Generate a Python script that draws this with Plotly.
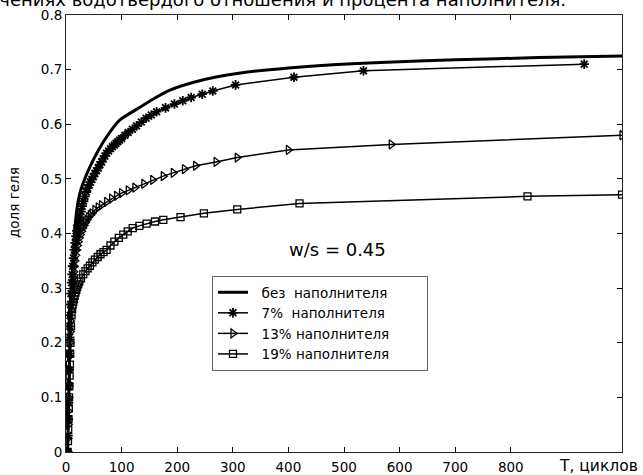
import plotly.graph_objects as go

# ---- data ----
t_none = [3, 4, 5, 6, 7, 8, 10, 12, 14, 17, 19, 24, 30, 43, 58, 73, 97, 133, 160, 188, 230, 272, 314, 400, 480, 566, 700, 850, 1000]
v_none = [0.0, 0.05, 0.1, 0.15, 0.2, 0.25, 0.3, 0.35, 0.38, 0.42, 0.44, 0.47, 0.49, 0.522, 0.552, 0.577, 0.608, 0.631, 0.648, 0.663, 0.677, 0.687, 0.694, 0.703, 0.709, 0.713, 0.718, 0.722, 0.725]

t_7 = [3, 3.5, 4, 4.5, 5, 5.5, 6, 6.5, 7, 7.5, 8, 9, 10, 11, 12, 13.5, 15, 16.5, 18, 19.5, 21, 23, 25, 27, 29, 31.5, 34, 36.5, 39, 41.5, 44, 46.5, 49, 52, 55, 58, 61, 64, 67, 70, 73, 76.5, 80, 83.5, 87, 90, 93, 96.5, 100, 106, 112, 119.5, 127, 135.5, 144, 153.5, 163, 179, 195, 210, 225, 245, 264, 305, 410, 535, 932]
v_7 = [0.0, 0.03, 0.06, 0.09, 0.12, 0.15, 0.18, 0.21, 0.23, 0.25, 0.27, 0.29, 0.31, 0.325, 0.34, 0.355, 0.37, 0.383, 0.395, 0.405, 0.415, 0.423, 0.43, 0.44, 0.45, 0.459, 0.468, 0.476, 0.483, 0.489, 0.494, 0.499, 0.504, 0.51, 0.515, 0.52, 0.526, 0.531, 0.537, 0.542, 0.547, 0.551, 0.555, 0.559, 0.562, 0.565, 0.568, 0.571, 0.574, 0.58, 0.585, 0.591, 0.597, 0.604, 0.611, 0.617, 0.623, 0.63, 0.637, 0.643, 0.649, 0.655, 0.661, 0.672, 0.686, 0.698, 0.710]

t_13 = [3, 3.5, 4, 4.5, 5, 5.5, 6, 6.5, 7, 7.5, 8, 9, 10, 11, 12, 13, 14, 15, 16, 17.5, 19, 20.5, 22, 24, 26, 28, 30, 32.5, 35, 38, 41, 44, 47, 52, 58, 64, 73, 82, 91, 100, 112, 124, 140, 156, 175, 193, 213, 233, 270, 308, 400, 585, 1000]
v_13 = [0.0, 0.025, 0.05, 0.075, 0.1, 0.125, 0.15, 0.175, 0.2, 0.22, 0.24, 0.26, 0.28, 0.295, 0.31, 0.32, 0.33, 0.34, 0.35, 0.36, 0.37, 0.378, 0.385, 0.392, 0.398, 0.404, 0.41, 0.415, 0.42, 0.425, 0.43, 0.434, 0.437, 0.443, 0.448, 0.452, 0.458, 0.464, 0.469, 0.474, 0.479, 0.484, 0.491, 0.498, 0.505, 0.511, 0.518, 0.524, 0.531, 0.539, 0.553, 0.563, 0.580]

t_19 = [3, 3.5, 4, 4.5, 5, 5.5, 6, 6.5, 7, 7.5, 8, 9, 10, 11, 12, 13, 14, 15.5, 17, 18.5, 20, 22, 24, 27, 31, 35, 39, 43, 47.5, 52, 57, 62, 67.5, 73, 80, 87, 95, 103, 111, 120, 132, 145, 160, 175, 206, 248, 308, 420, 830, 1000]
v_19 = [0.0, 0.02, 0.04, 0.06, 0.08, 0.1, 0.12, 0.14, 0.16, 0.18, 0.2, 0.23, 0.25, 0.262, 0.27, 0.275, 0.28, 0.286, 0.292, 0.297, 0.302, 0.307, 0.312, 0.318, 0.325, 0.331, 0.336, 0.341, 0.347, 0.352, 0.357, 0.362, 0.366, 0.37, 0.378, 0.385, 0.392, 0.398, 0.404, 0.41, 0.414, 0.418, 0.422, 0.425, 0.430, 0.437, 0.444, 0.455, 0.468, 0.471]

x_ticks = [0, 100, 200, 300, 400, 500, 600, 700, 800]
y_ticks = [0, 0.1, 0.2, 0.3, 0.4, 0.5, 0.6, 0.7, 0.8]
y_tick_text = ["0", "0.1", "0.2", "0.3", "0.4", "0.5", "0.6", "0.7", "0.8"]
NB = "\u00a0"
names = [NB * 2 + "без" + NB + " наполнителя" + NB * 8,
         NB * 2 + "7%" + NB + " наполнителя",
         NB * 2 + "13% наполнителя",
         NB * 2 + "19% наполнителя"]

FONT = "DejaVu Sans, Liberation Sans, Arial, sans-serif"

fig = go.Figure()
fig.add_trace(go.Scatter(x=t_none, y=v_none, mode="lines", name=names[0],
                         line=dict(color="black", width=3, shape="spline", smoothing=0.5)))
fig.add_trace(go.Scatter(x=t_7, y=v_7, mode="lines+markers", name=names[1],
                         line=dict(color="black", width=1.5),
                         marker=dict(symbol="asterisk-open", size=8, color="black",
                                     line=dict(color="black", width=1.8))))
fig.add_trace(go.Scatter(x=t_13, y=v_13, mode="lines+markers", name=names[2],
                         line=dict(color="black", width=1.5),
                         marker=dict(symbol="triangle-right-open", size=8, color="black",
                                     line=dict(color="black", width=1.3))))
fig.add_trace(go.Scatter(x=t_19, y=v_19, mode="lines+markers", name=names[3],
                         line=dict(color="black", width=1.5),
                         marker=dict(symbol="square-open", size=7, color="black",
                                     line=dict(color="black", width=1.3))))

fig.update_layout(
    width=643, height=475,
    margin=dict(l=66, r=21, t=15, b=23, autoexpand=False),
    paper_bgcolor="white", plot_bgcolor="white",
    font=dict(family=FONT, size=14, color="black"),
    showlegend=True,
    legend=dict(x=(212 - 66) / 556, y=(452 - 276) / 437, xanchor="left", yanchor="top",
                bgcolor="white", bordercolor="#666666", borderwidth=1,
                font=dict(family=FONT, size=13.5, color="black"),
                itemwidth=30, tracegroupgap=0),
    xaxis=dict(range=[0, 1000], tickvals=x_ticks, ticktext=[str(v) for v in x_ticks],
               ticks="inside", ticklen=5, tickcolor="black", showline=True,
               linecolor="#222222", linewidth=1, mirror="ticks", showgrid=False,
               zeroline=False, tickfont=dict(size=13.5), automargin=False,
               ticklabelstandoff=3),
    yaxis=dict(range=[0, 0.8], tickvals=y_ticks, ticktext=y_tick_text,
               ticks="inside", ticklen=5, tickcolor="black", showline=True,
               linecolor="#222222", linewidth=1, mirror="ticks", showgrid=False,
               zeroline=False, tickfont=dict(size=13.5), automargin=False),
    annotations=[
        dict(text="w/s = 0.45", x=(287 - 66) / 0.556, y=(452 - 249) / 546.25, xref="x", yref="y",
             xanchor="left", yanchor="middle", showarrow=False,
             font=dict(size=18)),
        dict(text="доля геля", x=-52 / 556, y=(452 - 203) / 437, xref="paper", yref="paper",
             xanchor="center", yanchor="middle", textangle=-90, showarrow=False,
             font=dict(size=13.5)),
        dict(text="T, циклов", x=(557 - 66) / 556, y=-14 / 437, xref="paper", yref="paper",
             xanchor="left", yanchor="middle", showarrow=False,
             font=dict(size=15.5)),
        dict(text="значениях водотвердого отношения и процента наполнителя.",
             x=(568 - 66) / 556, y=1 + 3 / 437, xref="paper", yref="paper",
             xanchor="right", yanchor="bottom", showarrow=False,
             font=dict(size=18)),
    ],
)

fig.write_html("out.html", config={"displayModeBar": False},
               post_script="document.body.style.margin='0px';document.body.style.overflow='hidden';")
